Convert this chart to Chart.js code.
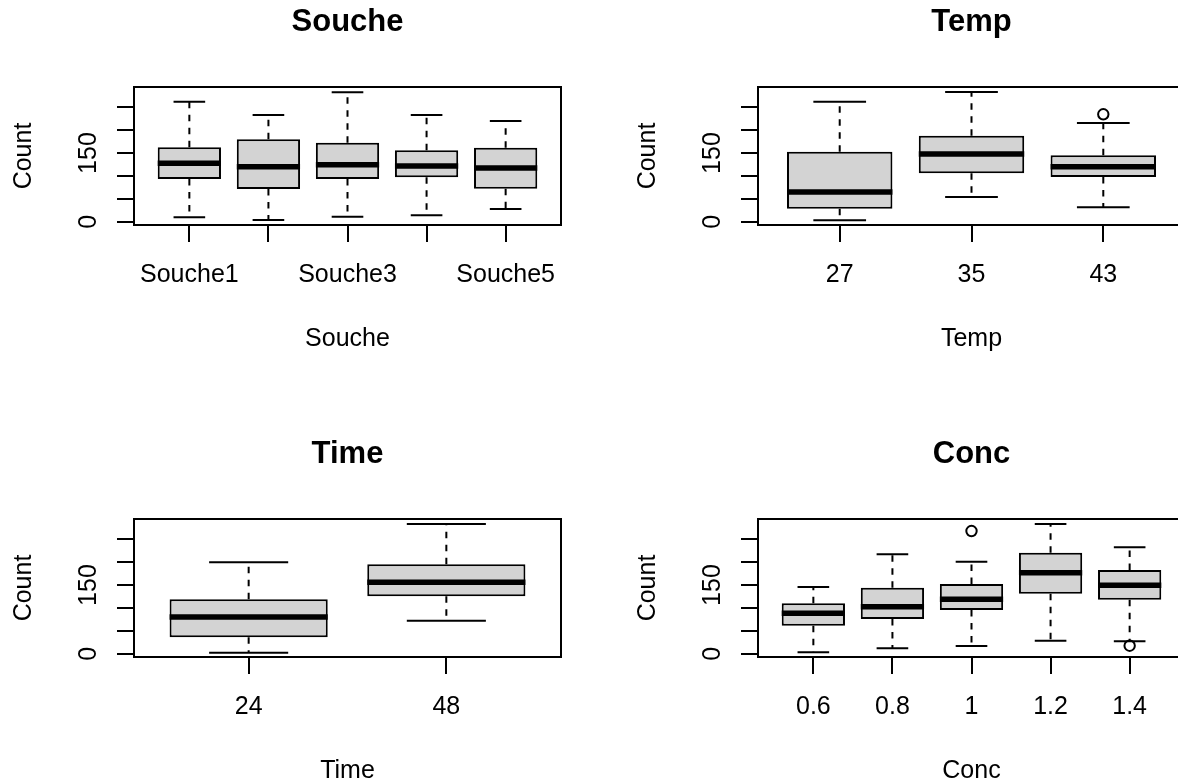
<!DOCTYPE html>
<html>
<head>
<meta charset="utf-8">
<script src="https://cdn.jsdelivr.net/npm/chart.js@4.4.1/dist/chart.umd.min.js"></script>
<style>
html, body { margin: 0; padding: 0; background: #fff; overflow: hidden; width: 1178px; height: 782px; }
.panel { position: absolute; width: 624px; height: 432px; }
</style>
</head>
<body>
<div class="panel" style="left:0;top:0"><canvas id="souche" width="624" height="432"></canvas></div>
<div class="panel" style="left:624px;top:0"><canvas id="temp" width="624" height="432"></canvas></div>
<div class="panel" style="left:0;top:432px"><canvas id="time" width="624" height="432"></canvas></div>
<div class="panel" style="left:624px;top:432px"><canvas id="conc" width="624" height="432"></canvas></div>
<script>
// axe Y commun (Count)
const yTicks = [0, 50, 100, 150, 200, 250];
const yTickText = ['0', '', '', '150', '', ''];
const Y_MIN = -7.2, Y_MAX = 294.4;

// Souche
const soucheCats = ['Souche1', 'Souche2', 'Souche3', 'Souche4', 'Souche5'];
const soucheTicks = ['Souche1', '', 'Souche3', '', 'Souche5'];
const soucheLo = [9.6, 3.7, 11, 14, 27.8];
const soucheQ1 = [93.3, 71.5, 93.3, 97, 72];
const soucheMed = [127.6, 120, 124.6, 121.7, 117.3];
const soucheQ3 = [162.6, 180, 172.6, 156, 161.7];
const soucheHi = [262, 233, 282.8, 233, 220];
const soucheOutX = [];
const soucheOutY = [];

// Temp
const tempCats = ['27', '35', '43'];
const tempLo = [3, 54, 31.5];
const tempQ1 = [28.4, 105.8, 97.7];
const tempMed = [65, 148, 120];
const tempQ3 = [153, 188, 145];
const tempHi = [262.2, 283.4, 215.7];
const tempOutX = [3];
const tempOutY = [234.7];

// Time
const timeCats = ['24', '48'];
const timeLo = [2.2, 72.1];
const timeQ1 = [35.8, 125.4];
const timeMed = [80.2, 156];
const timeQ3 = [118.9, 195.4];
const timeHi = [199.7, 283.4];
const timeOutX = [];
const timeOutY = [];

// Conc
const concCats = ['0.6', '0.8', '1', '1.2', '1.4'];
const concLo = [3, 11.7, 16.8, 28.4, 27];
const concQ1 = [61.2, 75.8, 95.5, 131.1, 118];
const concMed = [88.2, 102.7, 118.9, 177, 149.5];
const concQ3 = [110, 144.2, 152.3, 220.7, 182.9];
const concHi = [145.8, 217.2, 201, 283.4, 232.5];
const concOutX = [3, 5];
const concOutY = [268.1, 17.5];

Chart.defaults.font.family = "'Liberation Sans', Arial, sans-serif";
Chart.defaults.font.size = 25;
Chart.defaults.color = '#000';

const LW = 2;

// moustaches, médianes et cadre
function boxPlugin(lo, q1, med, q3, hi) {
    return {
        id: 'moustaches',
        beforeDatasetsDraw(chart) {
            const { ctx, scales: { x, y } } = chart;
            ctx.save();
            ctx.strokeStyle = '#000';
            ctx.lineWidth = LW;
            lo.forEach((v, i) => {
                const cx = x.getPixelForValue(i + 1);
                // traits pointillés
                ctx.setLineDash([6.5, 6.5]);
                ctx.beginPath();
                ctx.moveTo(cx, y.getPixelForValue(q3[i]));
                ctx.lineTo(cx, y.getPixelForValue(hi[i]));
                ctx.moveTo(cx, y.getPixelForValue(q1[i]));
                ctx.lineTo(cx, y.getPixelForValue(lo[i]));
                ctx.stroke();
                // extrémités
                ctx.setLineDash([]);
                const x0 = x.getPixelForValue(i + 1 - 0.2);
                const x1 = x.getPixelForValue(i + 1 + 0.2);
                ctx.beginPath();
                ctx.moveTo(x0, y.getPixelForValue(hi[i]));
                ctx.lineTo(x1, y.getPixelForValue(hi[i]));
                ctx.moveTo(x0, y.getPixelForValue(lo[i]));
                ctx.lineTo(x1, y.getPixelForValue(lo[i]));
                ctx.stroke();
            });
            ctx.restore();
        },
        afterDatasetsDraw(chart) {
            const { ctx, scales: { x, y } } = chart;
            ctx.save();
            ctx.strokeStyle = '#000';
            ctx.lineWidth = 5.5;
            med.forEach((v, i) => {
                const py = y.getPixelForValue(v);
                ctx.beginPath();
                ctx.moveTo(x.getPixelForValue(i + 1 - 0.4), py);
                ctx.lineTo(x.getPixelForValue(i + 1 + 0.4), py);
                ctx.stroke();
            });
            // cadre du graphique
            const a = chart.chartArea;
            ctx.lineWidth = LW;
            ctx.strokeRect(a.left, a.top, a.right - a.left, a.bottom - a.top);
            ctx.restore();
        }
    };
}

function makePanel(id, name, cats, tickText, lo, q1, med, q3, hi, outX, outY) {
    const n = cats.length;
    new Chart(document.getElementById(id), {
        type: 'bar',
        data: {
            datasets: [
                {
                    type: 'bar',
                    data: cats.map((c, i) => ({ x: i + 1, y: [q1[i], q3[i]] })),
                    backgroundColor: '#d3d3d3',
                    borderColor: '#000',
                    borderWidth: LW,
                    borderSkipped: false,
                    categoryPercentage: 0.8,
                    barPercentage: 1,
                },
                {
                    type: 'scatter',
                    data: outX.map((c, i) => ({ x: c, y: outY[i] })),
                    pointStyle: 'circle',
                    pointRadius: 5.2,
                    borderColor: '#000',
                    borderWidth: LW,
                    backgroundColor: 'rgba(0,0,0,0)',
                },
            ],
        },
        options: {
            responsive: false,
            animation: false,
            events: [],
            layout: { padding: { top: 0, left: 0, right: 63, bottom: 77.6 } },
            plugins: {
                legend: { display: false },
                tooltip: { enabled: false },
                title: {
                    display: true,
                    fullSize: false,
                    text: name,
                    color: '#000',
                    font: { size: 31, weight: 'bold' },
                    padding: { top: 3.4, bottom: 46.4 },
                },
            },
            scales: {
                x: {
                    type: 'linear',
                    bounds: 'data',
                    offset: false,
                    min: 0.5 - 0.04 * n,
                    max: n + 0.5 + 0.04 * n,
                    afterBuildTicks: s => { s.ticks = cats.map((c, i) => ({ value: i + 1 })); },
                    ticks: {
                        callback: (v, i) => tickText[i],
                        autoSkip: false,
                        maxRotation: 0,
                        padding: 18,
                        color: '#000',
                    },
                    grid: { offset: false, drawOnChartArea: false, drawTicks: true, tickLength: 17, color: '#000', lineWidth: LW },
                    border: { display: false },
                    title: { display: true, text: name, color: '#000', padding: { top: 0, bottom: 0 } },
                    afterFit: s => { s.height = 129.4; },
                },
                y: {
                    type: 'linear',
                    bounds: 'data',
                    min: Y_MIN,
                    max: Y_MAX,
                    afterBuildTicks: s => { s.ticks = yTicks.map(v => ({ value: v })); },
                    ticks: {
                        callback: (v, i) => yTickText[i],
                        minRotation: 90,
                        maxRotation: 90,
                        crossAlign: 'center',
                        padding: 7.5,
                        autoSkip: false,
                        color: '#000',
                    },
                    grid: { drawOnChartArea: false, drawTicks: true, tickLength: 17, color: '#000', lineWidth: LW },
                    border: { display: false },
                    title: { display: true, text: 'Count', color: '#000', padding: { top: 9.6, bottom: 0 } },
                    afterFit: s => { s.width = 134; },
                },
            },
        },
        plugins: [boxPlugin(lo, q1, med, q3, hi)],
    });
}

makePanel('souche', 'Souche', soucheCats, soucheTicks, soucheLo, soucheQ1, soucheMed, soucheQ3, soucheHi, soucheOutX, soucheOutY);
makePanel('temp', 'Temp', tempCats, tempCats, tempLo, tempQ1, tempMed, tempQ3, tempHi, tempOutX, tempOutY);
makePanel('time', 'Time', timeCats, timeCats, timeLo, timeQ1, timeMed, timeQ3, timeHi, timeOutX, timeOutY);
makePanel('conc', 'Conc', concCats, concCats, concLo, concQ1, concMed, concQ3, concHi, concOutX, concOutY);
</script>
</body>
</html>
